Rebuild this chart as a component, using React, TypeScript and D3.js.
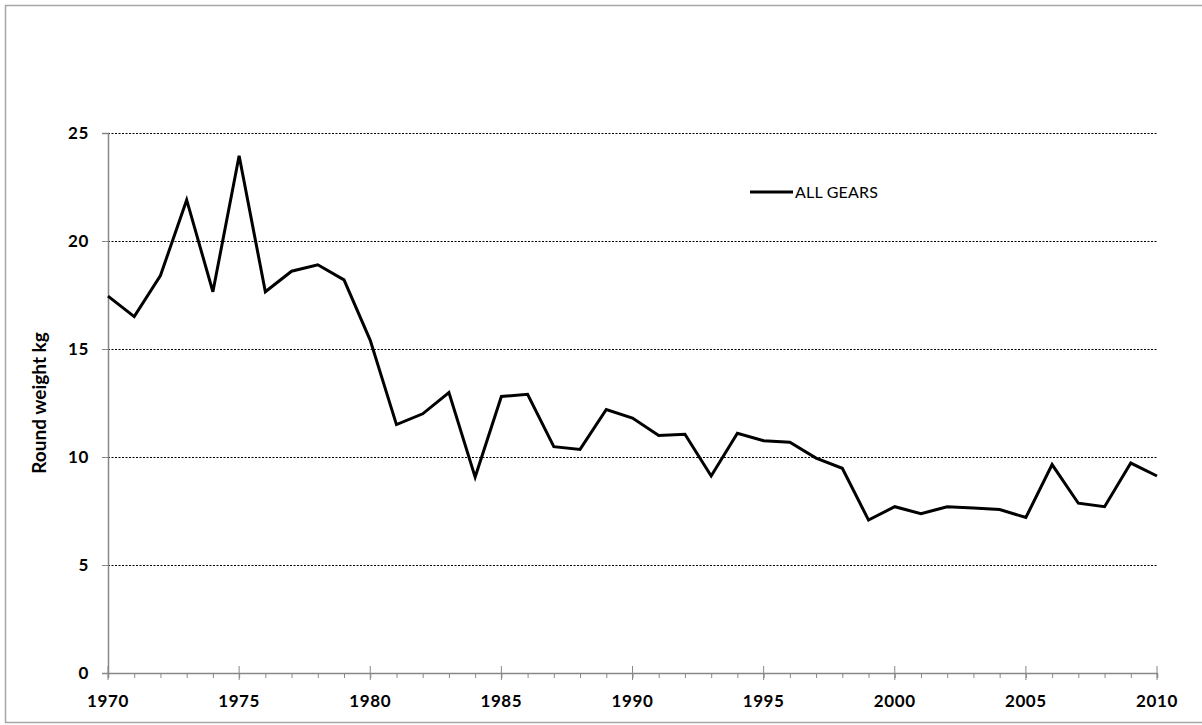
import React, { useRef, useEffect } from 'react';
import * as d3 from 'd3';

const years = d3.range(1970, 2011);
const allGears = [
  17.45, 16.5, 18.4, 21.9, 17.65, 23.95, 17.65, 18.6, 18.9, 18.2,
  15.4, 11.5, 12.0, 12.98, 9.07, 12.8, 12.9, 10.48, 10.35, 12.2,
  11.8, 11.0, 11.05, 9.12, 11.1, 10.75, 10.68, 9.95, 9.48, 7.08,
  7.7, 7.38, 7.7, 7.64, 7.57, 7.2, 9.65, 7.86, 7.7, 9.72, 9.12,
];
const yTicks = [0, 5, 10, 15, 20, 25];
const xTicks = [1970, 1975, 1980, 1985, 1990, 1995, 2000, 2005, 2010];
const seriesName = 'ALL GEARS';
const yTitle = 'Round weight kg';

const W = 1202;
const H = 725;
const font = 'Lato, "Open Sans", sans-serif';

const App = () => {
  const svgRef = useRef<SVGSVGElement>(null);

  useEffect(() => {
    const svg = d3.select(svgRef.current);
    svg.selectAll('*').remove();

    const x = d3.scaleLinear().domain([1970, 2010]).range([108, 1157]);
    const y = d3.scaleLinear().domain([0, 25]).range([673, 133]);

    // outer frame
    svg.append('rect')
      .attr('x', 5.5).attr('y', 5.5)
      .attr('width', 1200).attr('height', 717)
      .attr('fill', '#fff')
      .attr('stroke', '#a6a6a6')
      .attr('stroke-width', 1.5);

    // gridlines
    svg.append('g')
      .selectAll('line')
      .data(yTicks.filter(d => d > 0))
      .enter()
      .append('line')
      .attr('x1', x(1970)).attr('x2', x(2010))
      .attr('y1', d => Math.round(y(d)) + 0.5)
      .attr('y2', d => Math.round(y(d)) + 0.5)
      .attr('stroke', '#000')
      .attr('stroke-width', 1)
      .attr('stroke-dasharray', '2,1.5');

    // y axis
    const yAxis = svg.append('g').attr('transform', `translate(${x(1970)},0)`)
      .call(d3.axisLeft(y).tickValues(yTicks).tickSize(6).tickFormat(d3.format('d')));
    yAxis.select('.domain').attr('stroke', '#888').attr('stroke-width', 1.5);
    yAxis.selectAll('.tick line').attr('stroke', '#888');
    yAxis.selectAll('.tick text')
      .attr('x', -19)
      .attr('font-family', font)
      .attr('font-weight', 'bold')
      .attr('font-size', 17)
      .attr('letter-spacing', 0.6)
      .attr('fill', '#000');

    // x axis: minor ticks below, major ticks crossing
    const xAxis = svg.append('g').attr('transform', `translate(0,${y(0)})`)
      .call(d3.axisBottom(x).tickValues(years).tickSize(5).tickFormat(() => ''));
    xAxis.select('.domain').attr('stroke', '#888').attr('stroke-width', 1.5);
    xAxis.selectAll('.tick line').attr('stroke', '#888');

    svg.append('g')
      .selectAll('line')
      .data(xTicks)
      .enter()
      .append('line')
      .attr('x1', d => x(d)).attr('x2', d => x(d))
      .attr('y1', y(0) - 7).attr('y2', y(0) + 7)
      .attr('stroke', '#888')
      .attr('stroke-width', 1);

    svg.append('g')
      .selectAll('text')
      .data(xTicks)
      .enter()
      .append('text')
      .attr('x', d => x(d))
      .attr('y', 707)
      .attr('text-anchor', 'middle')
      .attr('font-family', font)
      .attr('font-weight', 'bold')
      .attr('font-size', 17)
      .attr('letter-spacing', 0.6)
      .text(d => d);

    // y title
    svg.append('text')
      .attr('transform', `translate(46,403) rotate(-90)`)
      .attr('text-anchor', 'middle')
      .attr('font-family', font)
      .attr('font-weight', 'bold')
      .attr('font-size', 19)
      .text(yTitle);

    // series
    const line = d3.line<number>()
      .x((d, i) => x(years[i]))
      .y(d => y(d));
    svg.append('path')
      .datum(allGears)
      .attr('d', line)
      .attr('fill', 'none')
      .attr('stroke', '#000')
      .attr('stroke-width', 3)
      .attr('stroke-linejoin', 'miter');

    // legend
    svg.append('line')
      .attr('x1', 750).attr('x2', 793)
      .attr('y1', 192).attr('y2', 192)
      .attr('stroke', '#000').attr('stroke-width', 3);
    svg.append('text')
      .attr('x', 795).attr('y', 198)
      .attr('font-family', font)
      .attr('font-size', 16)
      .attr('letter-spacing', 0.2)
      .text(seriesName);
  }, []);

  return (
    <div style={{ position: 'absolute', left: 0, top: 0 }}>
      <svg ref={svgRef} width={W} height={H}></svg>
    </div>
  );
};

export default App;
